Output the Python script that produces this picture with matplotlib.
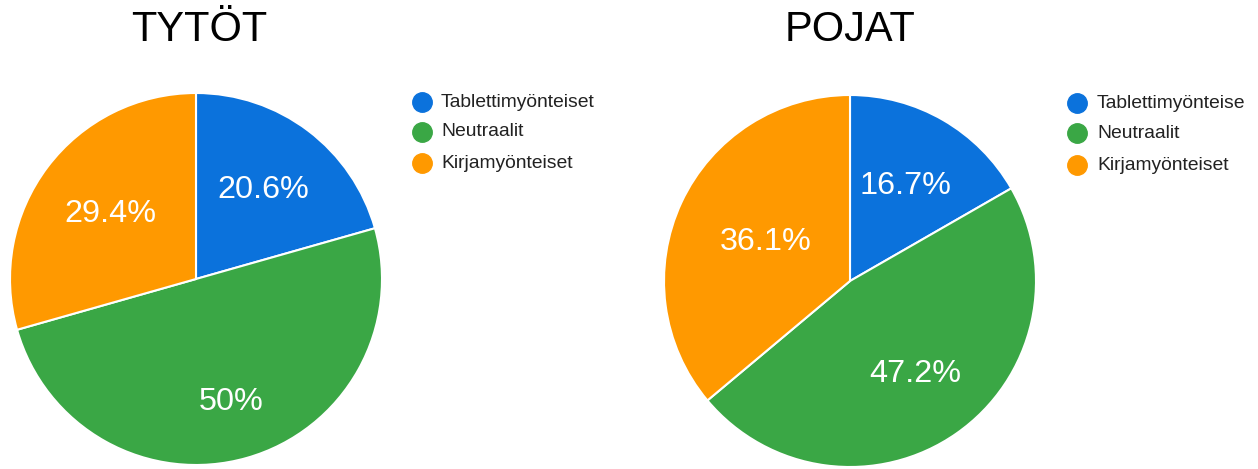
import numpy as np
import matplotlib.pyplot as plt
from matplotlib.lines import Line2D

plt.rcParams['font.family'] = ['Liberation Sans', 'DejaVu Sans']

# data
categories = ['Tablettimyönteiset', 'Neutraalit', 'Kirjamyönteiset']
girls = [20.6, 50.0, 29.4]
boys = [16.7, 47.2, 36.1]
girls_labels = ['20.6%', '50%', '29.4%']
boys_labels = ['16.7%', '47.2%', '36.1%']
colors = ['#0b72dc', '#3aa745', '#ff9900']

W, H = 1258, 469
fig = plt.figure(figsize=(W / 100, H / 100), dpi=100)


def px_axes(cx, cy, r):
    return fig.add_axes([(cx - r) / W, (H - cy - r) / H, 2 * r / W, 2 * r / H])


def draw_pie(ax, values, labels, dists):
    wedges, _ = ax.pie(values, colors=colors, startangle=90, counterclock=False,
                       radius=1.0, wedgeprops=dict(edgecolor='white', linewidth=1.5))
    for w, lab, d in zip(wedges, labels, dists):
        ang = np.deg2rad((w.theta1 + w.theta2) / 2)
        ax.text(d * np.cos(ang), d * np.sin(ang), lab, color='white', fontsize=23.3,
                ha='center', va='center')
    ax.set_xlim(-1, 1)
    ax.set_ylim(-1, 1)
    ax.set_aspect('equal')


ax1 = px_axes(196, 279, 186)
draw_pie(ax1, girls, girls_labels, [0.6, 0.69, 0.58])
ax2 = px_axes(850, 281, 186)
draw_pie(ax2, boys, boys_labels, [0.59, 0.61, 0.5])

fig.text(199 / W, 1 - 30 / H, 'TYTÖT', fontsize=30, ha='center', va='center')
fig.text(850 / W, 1 - 30 / H, 'POJAT', fontsize=30, ha='center', va='center')


def legend(x_dot, x_text, ys, names):
    for y, name, c in zip(ys, names, colors):
        fig.add_artist(Line2D([x_dot / W], [1 - y / H], marker='o', markersize=14,
                              color=c, linestyle='none', transform=fig.transFigure))
        fig.text(x_text / W, 1 - y / H, name, fontsize=13.9, color='#222222',
                 ha='left', va='center')


legend(422, 441, [102, 132, 163], categories)
legend(1077, 1097, [103, 133, 165], ['Tablettimyönteise', categories[1], categories[2]])

fig.savefig('out.png', dpi=100, facecolor='white')
